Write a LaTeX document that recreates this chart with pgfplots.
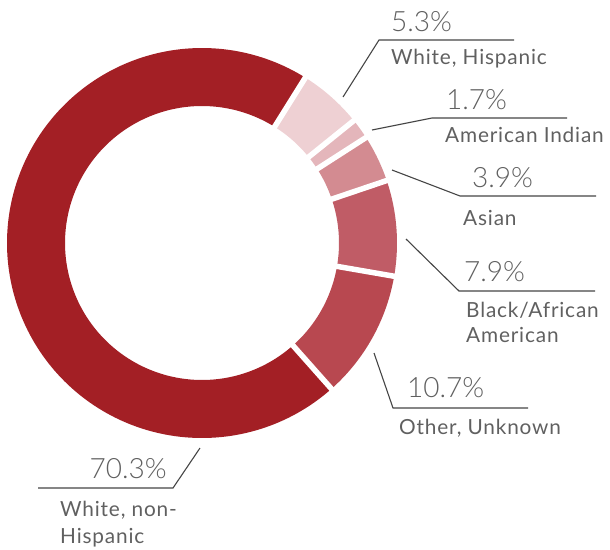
\documentclass[border=0pt]{standalone}
\usepackage{fontspec}
\setmainfont{Lato}
\IfFontExistsTF{Lato Light}{\newfontfamily\pctfont{Lato Light}}{\newfontfamily\pctfont{Lato}}
\newfontfamily\labfont[LetterSpace=4]{Lato}
\usepackage{pgfplots}
\pgfplotsset{compat=1.18}

\definecolor{cWNH}{HTML}{A31F25}
\definecolor{cWH}{HTML}{EED0D3}
\definecolor{cAI}{HTML}{E4B6BB}
\definecolor{cAS}{HTML}{D38B91}
\definecolor{cBL}{HTML}{C05C66}
\definecolor{cOT}{HTML}{B84850}
\definecolor{txt}{HTML}{606060}
\definecolor{lead}{HTML}{454545}

\newcommand{\pct}[1]{{\pctfont\fontsize{28}{30}\selectfont #1}}
\newcommand{\lab}{\labfont\fontsize{20.8}{26}\selectfont}

\begin{document}
\begin{tikzpicture}
% shares in percent
\def\vWH{5.3}\def\vAI{1.7}\def\vAS{3.9}\def\vBL{7.9}\def\vOT{10.7}\def\vWNH{70.3}
\def\tot{99.8}
\def\cx{202}\def\cy{243}\def\rmid{166}
\pgfmathsetmacro\k{360/\tot}
\pgfmathsetmacro\aA{58}
\pgfmathsetmacro\aB{\aA-\vWH*\k}
\pgfmathsetmacro\aC{\aB-\vAI*\k}
\pgfmathsetmacro\aD{\aC-\vAS*\k}
\pgfmathsetmacro\aE{\aD-\vBL*\k}
\pgfmathsetmacro\aF{\aE-\vOT*\k}
\pgfmathsetmacro\aG{\aF-\vWNH*\k}
\begin{axis}[x=1pt,y=1pt,xmin=0,xmax=610,ymin=0,ymax=549,y dir=reverse,
  hide axis,clip=false]
% ring segments
\addplot[cWH, line width=58pt, domain=\aB:\aA, samples=20] ({\cx+\rmid*cos(x)},{\cy-\rmid*sin(x)});
\addplot[cAI, line width=58pt, domain=\aC:\aB, samples=8] ({\cx+\rmid*cos(x)},{\cy-\rmid*sin(x)});
\addplot[cAS, line width=58pt, domain=\aD:\aC, samples=15] ({\cx+\rmid*cos(x)},{\cy-\rmid*sin(x)});
\addplot[cBL, line width=58pt, domain=\aE:\aD, samples=25] ({\cx+\rmid*cos(x)},{\cy-\rmid*sin(x)});
\addplot[cOT, line width=58pt, domain=\aF:\aE, samples=35] ({\cx+\rmid*cos(x)},{\cy-\rmid*sin(x)});
\addplot[cWNH, line width=58pt, domain=\aG:\aF, samples=180] ({\cx+\rmid*cos(x)},{\cy-\rmid*sin(x)});
% white gaps
\foreach \a in {\aA,\aB,\aC,\aD,\aE,\aF}{
  \edef\tmp{\noexpand\addplot[white, line width=5.5pt, domain=128:204, samples=2]
    ({\cx+x*cos(\a)},{\cy-x*sin(\a)});}
  \tmp
}
% leader lines
\draw[lead, line width=1.1pt] (axis cs:343,97) -- (axis cs:379,40) -- (axis cs:514,40);
\draw[lead, line width=1.1pt] (axis cs:372,130) -- (axis cs:432,118) -- (axis cs:567,118);
\draw[lead, line width=1.1pt] (axis cs:392,170) -- (axis cs:460,196) -- (axis cs:596,196);
\draw[lead, line width=1.1pt] (axis cs:406,239) -- (axis cs:459,291) -- (axis cs:595,291);
\draw[lead, line width=1.1pt] (axis cs:374,353) -- (axis cs:393,408) -- (axis cs:528,408);
\draw[lead, line width=1.1pt] (axis cs:200,448) -- (axis cs:173,488) -- (axis cs:38,488);
% labels
\begin{scope}[every node/.style={inner sep=0pt, text=txt}]
\node[anchor=base west] at (axis cs:391,31) {\pct{5.3\%}};
\node[anchor=base west] at (axis cs:391,64) {\lab White, Hispanic};
\node[anchor=base west] at (axis cs:446,109) {\pct{1.7\%}};
\node[anchor=base west] at (axis cs:445,142) {\lab American Indian};
\node[anchor=base west] at (axis cs:472,187) {\pct{3.9\%}};
\node[anchor=base west] at (axis cs:463,225) {\lab Asian};
\node[anchor=base west] at (axis cs:464,281) {\pct{7.9\%}};
\node[anchor=base west] at (axis cs:466,317) {\lab Black/African};
\node[anchor=base west] at (axis cs:466,342) {\lab American};
\node[anchor=base west] at (axis cs:407,397) {\pct{10.7\%}};
\node[anchor=base west] at (axis cs:399,434) {\lab Other, Unknown};
\node[anchor=base east] at (axis cs:167,478) {\pct{70.3\%}};
\node[anchor=base west] at (axis cs:60,516) {\lab White, non-};
\node[anchor=base west] at (axis cs:60,543) {\lab Hispanic};
\end{scope}
\end{axis}
\pgfresetboundingbox
\path[use as bounding box] (current axis.south west) rectangle (current axis.north east);
\end{tikzpicture}
\end{document}
